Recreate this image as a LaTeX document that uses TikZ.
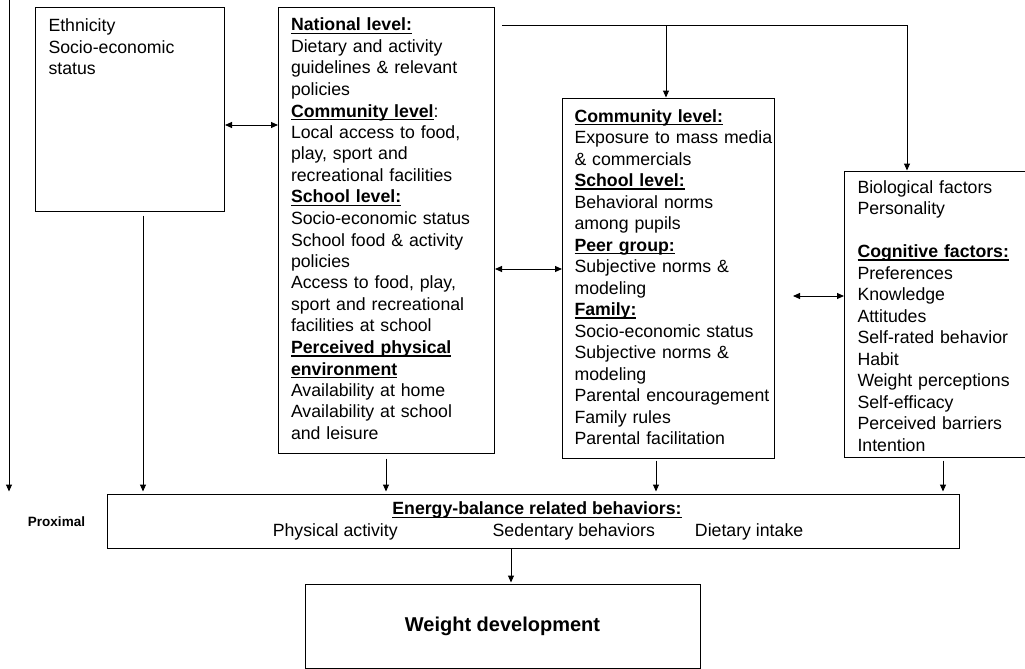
\documentclass[tikz,border=0pt]{standalone}
\usepackage{fontspec}
\setmainfont{Liberation Sans}
\usetikzlibrary{arrows.meta}
\hyphenpenalty=10000
\newcommand{\ulhead}[1]{\leavevmode\setbox0=\hbox{\bfseries #1}\rlap{\vrule height -1.9pt depth 3.2pt width \wd0}\box0}
\begin{document}
\begin{tikzpicture}[x=1pt,y=-1pt,line width=1pt,>={Triangle[length=7pt,width=6pt]},
  every node/.append style={font=\fontsize{17.7}{21.5}\selectfont},
  box/.style={draw,align=left,inner sep=0pt,anchor=base west}]
  \useasboundingbox(0,0)rectangle(1025,669);
  \node[box,text width=189pt,text height=24pt,text depth=179pt](eth)at(35,32){\leftskip=13pt Ethnicity\\Socio-economic\\status\par};
  \node[box,text width=216pt,text height=23pt,text depth=422pt](nat)at(278,31){\leftskip=12.5pt \ulhead{National level:}\\Dietary and activity\\guidelines \& relevant\\policies\\\ulhead{Community level}:\\Local access to food,\\play, sport and\\recreational facilities\\\ulhead{School level:}\\Socio-economic status\\School food \& activity\\policies\\Access to food, play,\\sport and recreational\\facilities at school\\\ulhead{Perceived physical}\\\ulhead{environment}\\Availability at home\\Availability at school\\and leisure\par};
  \node[box,text width=212pt,text height=24pt,text depth=336pt](soc)at(562,122){\leftskip=12pt \ulhead{Community level:}\\Exposure to mass media\\\& commercials\\\ulhead{School level:}\\Behavioral norms\\among pupils\\\ulhead{Peer group:}\\Subjective norms \&\\modeling\\\ulhead{Family:}\\Socio-economic status\\Subjective norms \&\\modeling\\Parental encouragement\\Family rules\\Parental facilitation\par};
  \node[box,text width=180.5pt,text height=22pt,text depth=264pt](ind)at(844,193){\leftskip=13pt Biological factors\\Personality\\[21.5pt]\ulhead{Cognitive factors:}\\Preferences\\Knowledge\\Attitudes\\Self-rated behavior\\Habit\\Weight perceptions\\Self-efficacy\\Perceived barriers\\Intention\par};
  \node[draw,minimum width=852pt,minimum height=54pt,inner sep=0pt,align=center](ebrb)at(533,521){\hspace*{8pt}\ulhead{Energy-balance related behaviors:}\\\hspace*{10pt}Physical activity\hspace{95pt}Sedentary behaviors\hspace{40pt}Dietary intake};
  \node[draw,minimum width=395pt,minimum height=84pt,font=\bfseries\fontsize{20}{24}\selectfont](wd)at(502.5,626){Weight development};
  \node[font=\bfseries\fontsize{13.5}{16}\selectfont,anchor=base](prox)at(56.5,526){Proximal};
  \coordinate(dtop)at(9,0);
  \coordinate(split)at(502,26);
  \draw[->,shorten >=2pt](dtop)--(dtop|-ebrb.north);
  \draw[<->](eth.east|-0,125)--(nat.west|-0,125);
  \draw[<->](nat.east|-0,269)--(soc.west|-0,269);
  \draw[<->,shorten <=18pt](soc.east|-0,296)--(ind.west|-0,296);
  \draw[->](split)-|(907,0|-ind.north);
  \draw[->](666,0|-split)--(666,0|-soc.north);
  \draw[->,shorten <=4pt,shorten >=2pt](eth.south-|143,0)--(143,0|-ebrb.north);
  \draw[->,shorten <=5pt,shorten >=2pt](nat.south-|386,0)--(386,0|-ebrb.north);
  \draw[->,shorten <=2pt,shorten >=2pt](soc.south-|656,0)--(656,0|-ebrb.north);
  \draw[->,shorten <=3pt,shorten >=2pt](ind.south-|943,0)--(943,0|-ebrb.north);
  \draw[->,shorten >=1pt](511,0|-ebrb.south)--(511,0|-wd.north);
\end{tikzpicture}
\end{document}
